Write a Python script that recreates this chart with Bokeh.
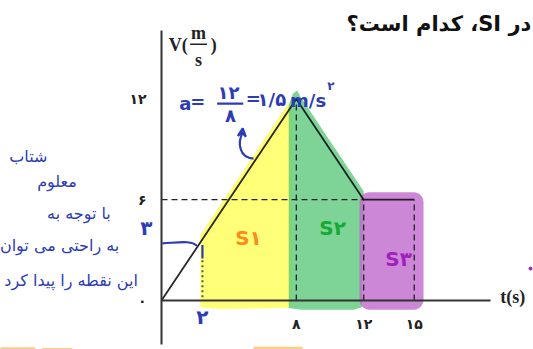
import numpy as np
from bokeh.plotting import figure
from bokeh.models import Range1d, FixedTicker, Arrow, VeeHead
from bokeh.core.properties import value
from bokeh.embed import file_html
from bokeh.resources import INLINE

# velocity-time graph (t in s, v in m/s)
t_pts = [0, 8, 12, 15]
v_pts = [0, 12, 6, 6]

# tick positions and their Persian labels
y_ticks = [0, 6, 12]
y_tick_labels = ["۰", "۶", "۱۲"]
x_ticks = [8, 12, 15]
x_tick_labels = ["۸", "۱۲", "۱۵"]

# the three areas S1, S2, S3 (time intervals)
area_names = ["S۱", "S۲", "S۳"]
area_bounds = [(2, 8), (8, 12), (12, 15)]

BLUE = "#2C3CB6"

p = figure(width=533, height=349, output_backend="svg", toolbar_location=None,
           x_range=Range1d(-161 / 16.85, 372 / 16.85),
           y_range=Range1d(-49 / 16.8, 300 / 16.8),
           min_border=0, outline_line_color=None)
p.grid.visible = False
p.background_fill_color = "white"


def v_at(t):
    return np.interp(t, t_pts, v_pts)


# ---- highlighter marks over each area ----
# S1 (yellow)
a0, a1 = area_bounds[0]
tt = np.linspace(a0 + 0.3, a1 - 0.35, 30)
top = v_at(tt) + 0.45
ys_x = np.concatenate([[a0 + 0.3], tt, [a1 - 0.2, a1 - 0.25, a1 - 0.5, a0 + 1.5, a0 + 0.35]])
ys_y = np.concatenate([[-0.3], top, [11.9, -0.3, -0.45, -0.5, -0.4]])
p.patch(ys_x, ys_y, fill_color="#FFFF60", fill_alpha=0.85, line_color=None)

# S2 (green)
b0, b1 = area_bounds[1]
tt2 = np.linspace(b0 + 0.25, b1, 30)
top2 = v_at(tt2) + 0.5
gx = np.concatenate([[b0 - 0.45, b0 - 0.45, b0 - 0.2, b0 + 0.05], tt2, [b1 - 0.1, b1 - 0.6, b0 + 0.3, b0 - 0.45]])
gy = np.concatenate([[-0.45, 11.6, 12.3, 12.5], top2, [-0.4, -0.55, -0.55, -0.45]])
p.patch(gx, gy, fill_color="#5DC97C", fill_alpha=0.8, line_color=None)

# S3 (purple) - rounded box
c0, c1 = area_bounds[2]
x_lo, x_hi, y_lo, y_hi, rx, ry = c0 - 0.25, c1 + 0.55, -0.55, v_at(c0) + 0.45, 0.6, 0.6
ang = np.linspace(0, np.pi / 2, 8)
px = np.concatenate([x_hi - rx + rx * np.cos(ang), x_lo + rx - rx * np.sin(ang),
                     x_lo + rx - rx * np.cos(ang), x_hi - rx + rx * np.sin(ang)])
py = np.concatenate([y_hi - ry + ry * np.sin(ang), y_hi - ry + ry * np.cos(ang),
                     y_lo + ry - ry * np.sin(ang), y_lo + ry - ry * np.cos(ang)])
p.patch(px, py, fill_color="#BF6ACC", fill_alpha=0.8, line_color=None)

# faint orange marks along the bottom
p.quad(left=[-9.6, -7.06, 5.46], right=[-7.48, -5.28, 8.37],
       bottom=[-2.95] * 3, top=[-2.78, -2.82, -2.76],
       fill_color="#FFBE6A", fill_alpha=0.8, line_color=None)

# ---- guide lines ----
dash = dict(line_color="#222222", line_width=1.3, line_dash="6 4")
p.line([0, t_pts[2]], [v_pts[2], v_pts[2]], **dash)
for tk in t_pts[1:]:
    p.line([tk, tk], [0, v_at(tk)], **dash)

# the graph itself
p.line(t_pts, v_pts, line_color="#111111", line_width=1.8, line_alpha=0.9)

# ---- axes through the origin ----
p.xaxis.fixed_location = 0
p.yaxis.fixed_location = 0
for ax in (p.xaxis[0], p.yaxis[0]):
    ax.axis_line_color = "#333333"
    ax.axis_line_width = 2
    ax.major_tick_line_color = None
    ax.minor_tick_line_color = None
    ax.major_label_text_font = "DejaVu Sans"
    ax.major_label_text_font_style = "bold"
    ax.major_label_text_font_size = "14px"
    ax.major_label_text_color = "#222222"
p.xaxis[0].bounds = (0, 19.5)
p.yaxis[0].bounds = (-2.6, 16.1)
p.xaxis[0].ticker = FixedTicker(ticks=x_ticks)
p.yaxis[0].ticker = FixedTicker(ticks=y_ticks)
p.xaxis[0].major_label_overrides = dict(zip(x_ticks, x_tick_labels))
p.yaxis[0].major_label_overrides = dict(zip(y_ticks, y_tick_labels))
p.xaxis[0].major_label_standoff = 9
p.yaxis[0].major_label_standoff = 9

# axis titles
serif = dict(text_font=value("Liberation Serif"), text_font_style="bold",
             text_color="#222222", text_baseline="middle")
p.text(x=[1.0, 2.2, 2.2, 3.1], y=[15.18, 15.95, 14.3, 15.18], text=["V(", "m", "s", ")"],
       text_font_size="18px", text_align="center", **serif)
p.line([1.7, 2.7], [15.25, 15.25], line_color="#222222", line_width=1.5)
p.text(x=[20.1], y=[0.2], text=["t(s)"], text_font_size="18px", text_align="left", **serif)

# question fragment
p.text(x=[21.95], y=[16.45], text=["\u202Bدر SI، کدام است؟\u202C"],
       text_font=value("DejaVu Sans"), text_font_style="bold", text_font_size="21px",
       text_color="#111111", text_align="right", text_baseline="middle")

# ---- handwritten notes ----
hand = dict(text_font=value("DejaVu Sans"), text_color=BLUE, text_baseline="middle")
p.text(x=[-7.9, -6.2, -4.9, -6.05], y=[8.6, 7.1, 5.2, 3.3],
       text=["شتاب", "معلوم", "با توجه به", "به راحتی می توان"],
       text_font_size="16px", text_align="center", **hand)
p.text(x=[-1.4], y=[1.2], text=["این نقطه را پیدا کرد"],
       text_font_size="16px", text_align="right", **hand)
p.text(x=[-0.9, 2.43], y=[4.3, -1.0], text=["۳", "۲"],
       text_font_size="20px", text_font_style="bold", text_align="center", **hand)

# acceleration: a = 12/8 = 1.5 m/s^2
p.text(x=[1.42, 2.15, 3.98, 4.1, 5.45, 6.55, 8.7], y=[11.75, 11.85, 12.4, 11.0, 12.0, 11.95, 11.9],
       text=["a", "=", "۱۲", "۸", "=", "۱/۵", "m/s"],
       text_font_size="18px", text_font_style="bold", text_align="center", **hand)
p.text(x=[10.05], y=[12.75], text=["۲"], text_font_size="12px", text_font_style="bold",
       text_align="center", **hand)
p.line([3.3, 4.85], [11.72, 11.72], line_color=BLUE, line_width=2.2)

# arrow from the slope to the formula
p.bezier(x0=[5.46], y0=[8.45], x1=[4.82], y1=[10.0], cx0=[4.6], cy0=[8.5], cx1=[4.5], cy1=[9.4],
         line_color=BLUE, line_width=2.2)
p.add_layout(Arrow(end=VeeHead(size=8, line_color=BLUE, line_width=2.2, fill_color=None),
                   x_start=4.78, y_start=9.9, x_end=4.82, y_end=10.25,
                   line_color=BLUE, line_width=2.2))

# reading v=3 at t=2 off the line
p.bezier(x0=[0.05], y0=[3.4], x1=[2.1], y1=[3.25], cx0=[1.0], cy0=[3.45], cx1=[1.8], cy1=[3.6],
         line_color=BLUE, line_width=2.2)
p.line([2.43, 2.43], [3.3, 2.5], line_color=BLUE, line_width=2.2)
p.line([2.43, 2.43], [2.4, 0], line_color="#555555", line_width=2, line_dash="2 3")

# S labels
p.text(x=[5.16, 10.15, 14.07], y=[3.75, 4.3, 2.5], text=area_names,
       text_color=["#FF8A1C", "#16AA35", "#A020BE"], text_font=value("DejaVu Sans"),
       text_font_style="bold", text_font_size="20px", text_align="center", text_baseline="middle")
p.scatter([21.9], [1.9], size=3, color="#A020BE")

open("out.html", "w").write(file_html(p, INLINE))
